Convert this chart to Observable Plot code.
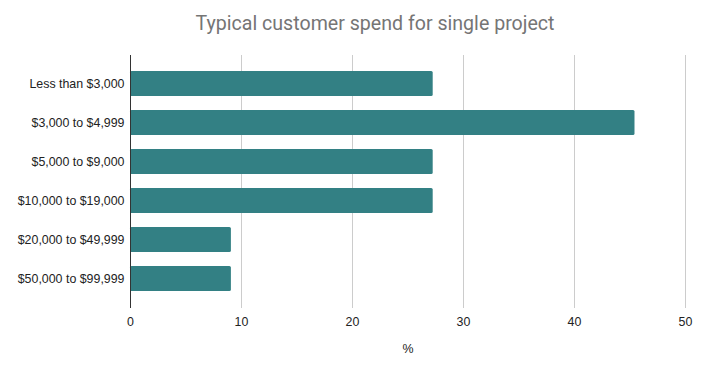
<!DOCTYPE html>
<html>
<head>
<meta charset="utf-8">
<script src="https://cdn.jsdelivr.net/npm/d3@7"></script>
<script src="https://cdn.jsdelivr.net/npm/@observablehq/plot@0.6"></script>
<style>
  html, body { margin: 0; padding: 0; background: #fff; }
  #wrap { position: relative; width: 704px; height: 379px; }
  #title { position: absolute; left: 0; top: 12px; width: 704px; padding-left: 46px; box-sizing: border-box;
    text-align: center; font-family: Roboto, "Liberation Sans", sans-serif; font-size: 19.6px; color: #757575; line-height: 24px; }
  #chart { position: absolute; left: 0; top: 0; }
</style>
</head>
<body>
<div id="wrap">
  <div id="chart"></div>
  <div id="title">Typical customer spend for single project</div>
</div>
<script>
const categories = ["Less than $3,000", "$3,000 to $4,999", "$5,000 to $9,000", "$10,000 to $19,000", "$20,000 to $49,999", "$50,000 to $99,999"];
const values = [27.27, 45.45, 27.27, 27.27, 9.09, 9.09];
const xTicks = [0, 10, 20, 30, 40, 50];
const xLabel = "%";

const data = categories.map((c, i) => ({category: c, value: values[i]}));

const chart = Plot.plot({
  width: 704,
  height: 379,
  marginLeft: 130,
  marginRight: 19,
  marginTop: 55,
  marginBottom: 71,
  style: {fontFamily: "'Liberation Sans', Arial, sans-serif", fontSize: "12.4px", color: "#222", background: "#fff"},
  x: {domain: [0, 50], ticks: xTicks, label: null, tickSize: 0, tickPadding: 9},
  y: {domain: categories, padding: 0.35, label: null, tickSize: 0, tickPadding: 6},
  marks: [
    Plot.gridX(xTicks, {stroke: "#cccccc", strokeOpacity: 1}),
    Plot.barX(data, {x: "value", y: "category", fill: "#338084", rx: 1.5}),
    Plot.ruleX([0], {stroke: "#333"}),
    Plot.text([xLabel], {frameAnchor: "bottom", dy: 44, text: d => d, fill: "#222", fontSize: 12.4})
  ]
});
document.getElementById("chart").appendChild(chart);
</script>
</body>
</html>
